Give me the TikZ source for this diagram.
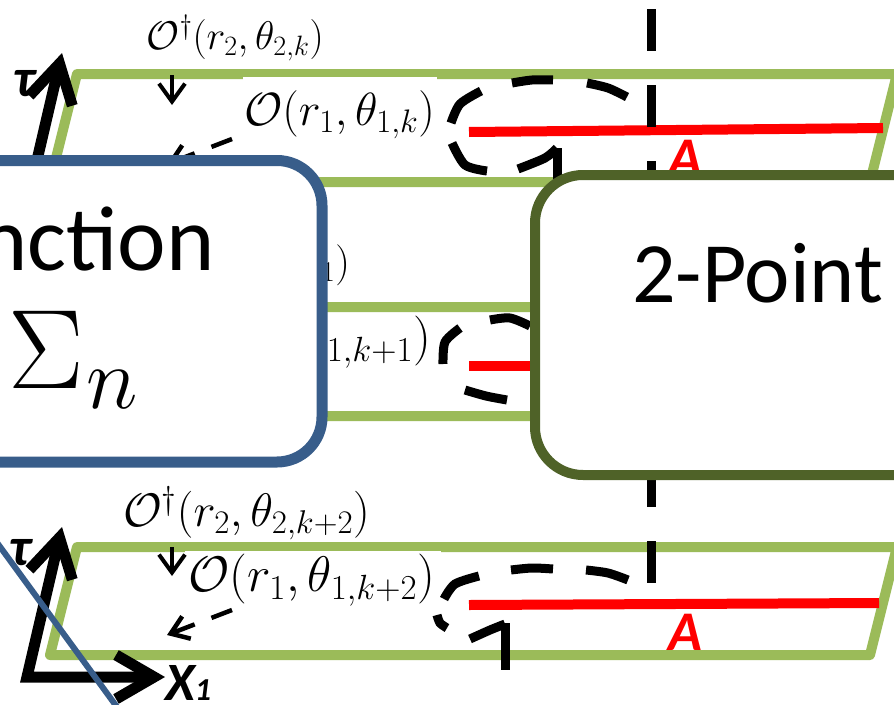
\RequirePackage{fix-cm}
\documentclass[tikz,border=0pt]{standalone}
\usepackage{fontspec}
\newfontfamily\carlito{Carlito}
\usetikzlibrary{arrows.meta}
\definecolor{paragreen}{HTML}{9BBB59}
\definecolor{boxblue}{HTML}{385D8A}
\definecolor{boxolive}{HTML}{4F6228}
\newcommand\setfs[1]{\fontsize{#1}{#1}\selectfont}
\begin{document}
\begin{tikzpicture}[x=1pt,y=-1pt,
  para/.style={draw=paragreen,line width=10pt,line join=round},
  redline/.style={draw=red,line width=10pt},
  dashpiece/.style={draw=black,line width=9pt},
  hook/.style={draw=black,line width=9pt},
  cutline/.style={draw=black,line width=9pt,dash pattern=on 42pt off 34pt},
  lbl/.style={inner sep=0pt,anchor=east},
  alabel/.style={inner sep=0pt,anchor=base,text=red,font=\carlito\bfseries\itshape\setfs{56}},
  axlabel/.style={inner sep=0pt,anchor=base west,font=\carlito\bfseries\itshape\setfs{54}},
  axis/.style={draw=black,line width=11pt,line join=miter,arrows={Straight Barb[length=38pt,width=44pt]-Straight Barb[length=38pt,width=44pt]}},
  axisone/.style={draw=black,line width=11pt,arrows={-Straight Barb[length=38pt,width=44pt]}},
  downarr/.style={draw=black,line width=4pt,arrows={-Straight Barb[length=18pt,width=26pt]}},
  dasharr/.style={draw=black,line width=4.5pt,dash pattern=on 22pt off 18pt,arrows={-Straight Barb[length=17pt,width=24pt]}},
  patch/.style={fill=white,draw=none}]
\useasboundingbox (0,0) rectangle (894,704);
\clip (0,0) rectangle (894,704);

% parallelograms
\draw[para] (77,74) -- (897,74) -- (870,182) -- (50,182) -- cycle;
\draw[para] (77,307) -- (897,307) -- (870,416) -- (50,416) -- cycle;
\draw[para] (77,547) -- (897,547) -- (870,655) -- (50,655) -- cycle;

% label background patches
\fill[patch] (243,77) rectangle (437,140);
\fill[patch] (185,551) rectangle (441,606);

% red intervals
\draw[redline] (469,132) -- (883,128);
\draw[redline] (469,366) -- (535,366);
\draw[redline] (469,605) -- (879,603);

% operator labels
\node[lbl] (od1) at (324,38) {\setfs{40}$\mathcal{O}^\dagger(r_2,\theta_{2,k})$};
\node[lbl] (o1) at (435,115) {\setfs{46.5}$\mathcal{O}(r_1,\theta_{1,k})$};
\node[lbl] (od2) at (350,264) {\setfs{41}$\mathcal{O}^\dagger(r_2,\theta_{2,k+1})$};
\node[lbl] (o2) at (431,342) {\setfs{50}$\mathcal{O}(r_1,\theta_{1,k+1})$};
\node[lbl] (od3) at (370,513) {\setfs{47}$\mathcal{O}^\dagger(r_2,\theta_{2,k+2})$};
\node[lbl] (o3) at (435,580) {\setfs{50}$\mathcal{O}(r_1,\theta_{1,k+2})$};

% A labels
\node[alabel] (a1) at (685,176) {A};
\node[alabel] (a3) at (685,650) {A};

% contour around the top interval end (dash pieces)
\draw[dashpiece] plot[smooth] coordinates {(557,148) (545,158) (518,169)};
\draw[dashpiece] plot[smooth] coordinates {(487,171) (465,165) (452,143)};
\draw[dashpiece] plot[smooth] coordinates {(451,123) (460,104) (481,91)};
\draw[dashpiece] plot[smooth] coordinates {(512,83) (532,80) (553,80)};
\draw[dashpiece] plot[smooth] coordinates {(587,83) (608,88) (627,97)};
\draw[hook] (557,148) -- (557,200);
% contour around the middle interval end
\draw[dashpiece] plot[smooth] coordinates {(460,328) (445,342) (443,364)};
\draw[dashpiece] plot[smooth] coordinates {(490,320) (510,318) (530,326)};
\draw[dashpiece] plot[smooth] coordinates {(465,390) (486,396) (507,400)};
% contour around the bottom interval end
\draw[dashpiece] plot[smooth] coordinates {(505,624) (490,630) (470,639)};
\draw[dashpiece] plot[smooth] coordinates {(447,628) (440,623) (437,615)};
\draw[dashpiece] plot[smooth] coordinates {(444,599) (455,584) (479,576)};
\draw[dashpiece] plot[smooth] coordinates {(511,570) (532,568) (553,569)};
\draw[dashpiece] plot[smooth] coordinates {(586,570) (608,573) (628,580)};
\draw[hook] (505,623) -- (505,670);

% vertical cut line
\coordinate (cutTop) at (651,9);
\coordinate (cutBot) at (651,583);
\draw[cutline] (cutTop) -- (cutBot);

% small arrows
\coordinate (d1s) at (172,75); \coordinate (d1e) at (172,105);
\coordinate (d3s) at (172,547); \coordinate (d3e) at (172,576);
\draw[downarr] (d1s) -- (d1e);
\draw[downarr] (d3s) -- (d3e);
\coordinate (e1s) at (232,139); \coordinate (e1e) at (167,164);
\coordinate (e3s) at (232,610); \coordinate (e3e) at (167,635);
\draw[dasharr] (e1s) -- (e1e);
\draw[dasharr] (e3s) -- (e3e);

% axes
\coordinate (tauTop) at (62,53); \coordinate (tauBase) at (27,203);
\draw[axisone] (tauBase) -- (tauTop);
\node[axlabel] (tau1) at (13,96) {τ};
\coordinate (tau3) at (62,527); \coordinate (orig3) at (27,677); \coordinate (x3) at (165,677);
\draw[axis] (tau3) -- (orig3) -- (x3);
\node[axlabel] (tau3l) at (9,565) {τ};
\node[axlabel] (x1l) at (165,700) {X{\setfs{32}1}};

% boxes
\draw[draw=boxblue,line width=11pt,fill=white,rounded corners=45pt] (-80,160.5) rectangle (322,462);
\node[font=\carlito\setfs{92},anchor=base east,inner sep=0pt] (fn) at (215,270) {Function};
\node[anchor=base west,inner sep=0pt] (sig) at (8,388) {\setfs{113}$\Sigma$\kern3pt\raisebox{-20pt}{\setfs{88}$n$}};
\draw[draw=boxolive,line width=10pt,fill=white,rounded corners=48pt] (535,175) rectangle (1000,475);
\node[font=\carlito\setfs{86},anchor=base west,inner sep=0pt] (tp) at (632,302) {2-Point};

% blue diagonal
\coordinate (bl1) at (-10,533); \coordinate (bl2) at (125,718);
\draw[boxblue,line width=6pt] (bl1) -- (bl2);
\end{tikzpicture}
\end{document}
